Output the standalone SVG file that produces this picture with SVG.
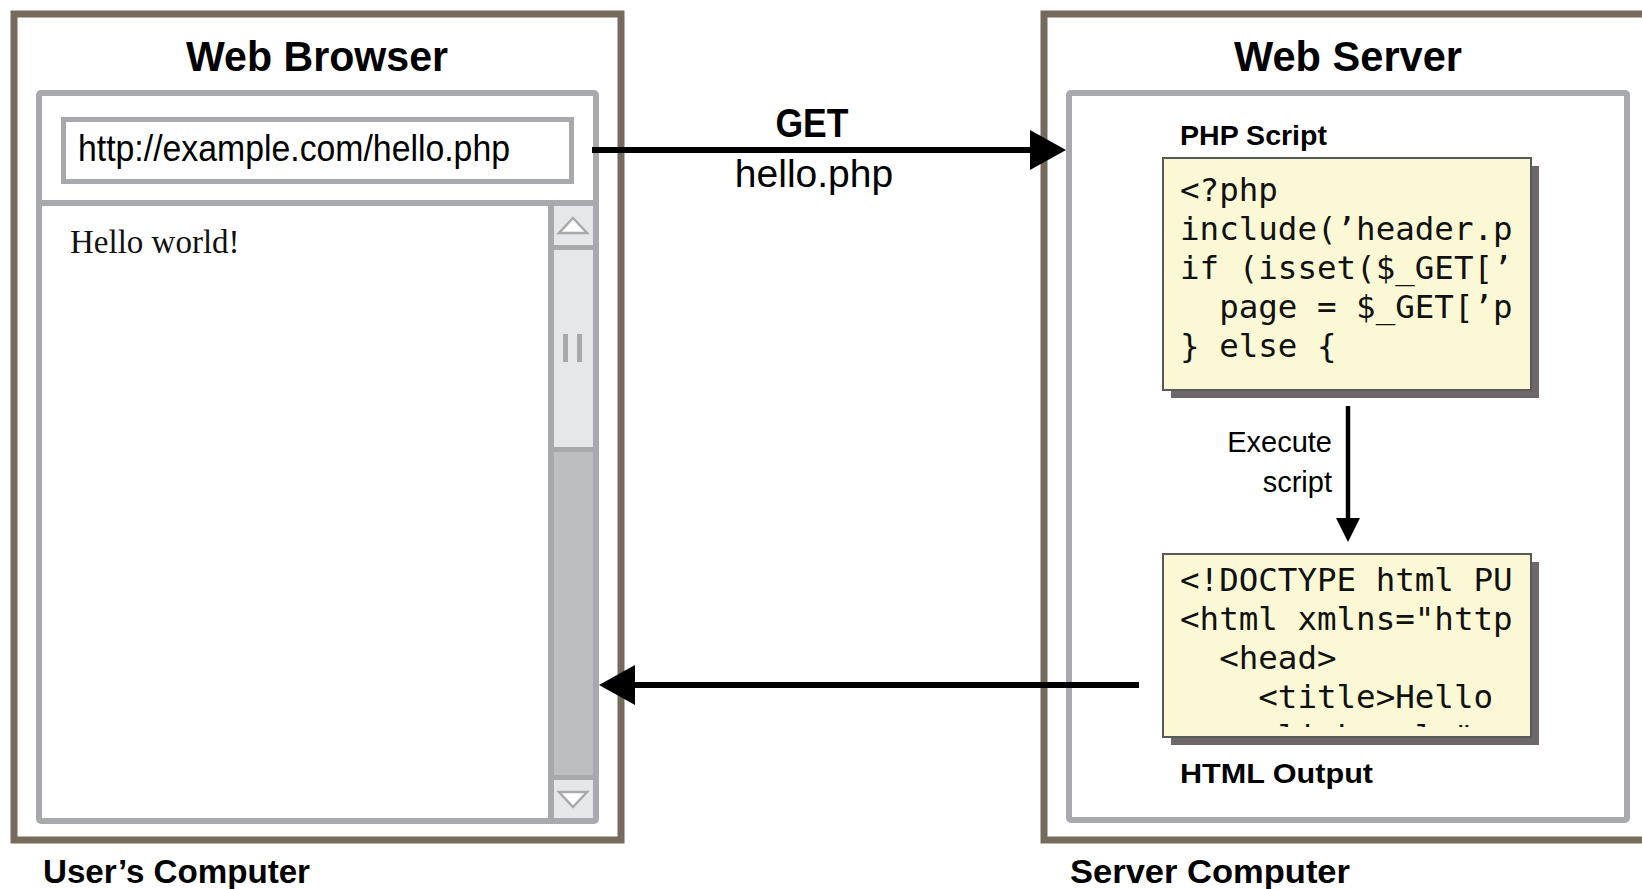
<svg xmlns="http://www.w3.org/2000/svg" width="1642" height="889" viewBox="0 0 1642 889">
<style>
.computer{fill:#ffffff;stroke:#766a5c;stroke-width:7}
.frame{fill:#ffffff;stroke:#a7a9ac;stroke-width:6}
.title{font-family:"Liberation Sans",Arial,sans-serif;font-weight:bold;font-size:43px;fill:#000}
.caption{font-family:"Liberation Sans",Arial,sans-serif;font-weight:bold;font-size:34px;fill:#000}
.label{font-family:"Liberation Sans",Arial,sans-serif;font-weight:bold;font-size:28px;fill:#000}
.small{font-family:"Liberation Sans",Arial,sans-serif;font-size:29px;fill:#000}
.code{font-family:"DejaVu Sans Mono","Liberation Mono",monospace;font-size:32.5px;fill:#111;white-space:pre}
.codebox{fill:#fbf8d5;stroke:#58595b;stroke-width:2}
.shadow{fill:#6e6769}
.sb{fill:#e6e7e8}
.tri{fill:#ffffff;stroke:#a7a9ac;stroke-width:2.5;stroke-linejoin:miter}
.conn{stroke:#000;fill:none}
</style>
<defs>
<marker id="bigHead" markerUnits="userSpaceOnUse" markerWidth="36" markerHeight="40" viewBox="0 0 36 40" refX="1" refY="20" orient="auto">
<path d="M0,0 L36,20 L0,40 z" fill="#000"/>
</marker>
<marker id="smallHead" markerUnits="userSpaceOnUse" markerWidth="24" markerHeight="24" viewBox="0 0 24 24" refX="1" refY="12" orient="auto">
<path d="M0,0 L24,12 L0,24 z" fill="#000"/>
</marker>
<clipPath id="phpClip"><rect x="1164" y="159" width="349" height="230"/></clipPath>
<clipPath id="htmlClip"><rect x="1164" y="555" width="349" height="172"/></clipPath>
</defs>

<g id="users-computer">
<rect class="computer" x="14" y="14" width="607" height="826"/>
<text class="caption" x="43" y="883" textLength="267" lengthAdjust="spacingAndGlyphs">User’s Computer</text>
</g>

<g id="web-browser">
<text class="title" x="317" y="71" text-anchor="middle" textLength="262" lengthAdjust="spacingAndGlyphs">Web Browser</text>
<rect class="frame" x="39" y="93" width="557" height="728" rx="2"/>
<line x1="39" y1="203" x2="596" y2="203" stroke="#a7a9ac" stroke-width="6"/>
<rect x="63.5" y="119.5" width="508" height="62" fill="#fff" stroke="#a7a9ac" stroke-width="5"/>
<text class="small" x="78" y="161" style="font-size:36px" textLength="432" lengthAdjust="spacingAndGlyphs">http://example.com/hello.php</text>
<text x="70" y="253" font-family="'Liberation Serif','Times New Roman',serif" font-size="33" fill="#111">Hello world!</text>
<g id="scrollbar">
<line x1="551" y1="203" x2="551" y2="821" stroke="#a7a9ac" stroke-width="6"/>
<rect class="sb" x="554" y="206" width="39" height="39"/>
<rect x="554" y="245" width="39" height="5" fill="#a7a9ac"/>
<rect class="sb" x="554" y="250" width="39" height="197"/>
<rect x="554" y="447" width="39" height="5" fill="#a7a9ac"/>
<rect x="554" y="452" width="39" height="323" fill="#bcbec0"/>
<rect x="554" y="775" width="39" height="5" fill="#a7a9ac"/>
<rect class="sb" x="554" y="780" width="39" height="38"/>
<polygon class="tri" points="573,218 587,233 559,233"/>
<polygon class="tri" points="559,792 587,792 573,807"/>
<rect x="563" y="334" width="5" height="28" fill="#a7a9ac"/>
<rect x="577" y="334" width="5" height="28" fill="#a7a9ac"/>
</g>
</g>

<g id="server-computer">
<rect class="computer" x="1044" y="14" width="640" height="826"/>
<text class="caption" x="1070" y="883" textLength="280" lengthAdjust="spacingAndGlyphs">Server Computer</text>
</g>

<g id="web-server">
<text class="title" x="1348" y="71" text-anchor="middle" textLength="228" lengthAdjust="spacingAndGlyphs">Web Server</text>
<rect class="frame" x="1069" y="93" width="558" height="727" rx="2"/>
</g>

<g id="php-script">
<text class="label" x="1180" y="145" textLength="147" lengthAdjust="spacingAndGlyphs">PHP Script</text>
<rect class="shadow" x="1171" y="166" width="368" height="232"/>
<rect class="codebox" x="1163" y="158" width="368" height="232"/>
<g clip-path="url(#phpClip)">
<text class="code" x="1180" y="201">&lt;?php</text>
<text class="code" x="1180" y="240">include(’header.p</text>
<text class="code" x="1180" y="279">if (isset($_GET[’</text>
<text class="code" x="1180" y="318">  page = $_GET[’p</text>
<text class="code" x="1180" y="357">} else {</text>
</g>
</g>

<g id="html-output">
<rect class="shadow" x="1171" y="562" width="368" height="183"/>
<rect class="codebox" x="1163" y="554" width="368" height="183"/>
<g clip-path="url(#htmlClip)">
<text class="code" x="1180" y="591">&lt;!DOCTYPE html PU</text>
<text class="code" x="1180" y="630">&lt;html xmlns="http</text>
<text class="code" x="1180" y="669">  &lt;head&gt;</text>
<text class="code" x="1180" y="708">    &lt;title&gt;Hello</text>
<text class="code" x="1180" y="748">    &lt;link rel="</text>
</g>
<text class="label" x="1180" y="783" textLength="193" lengthAdjust="spacingAndGlyphs">HTML Output</text>
</g>

<g id="connectors">
<line class="conn" x1="592" y1="150" x2="1031" y2="150" stroke-width="6" marker-end="url(#bigHead)"/>
<text class="title" x="812" y="137" text-anchor="middle" style="font-size:40px" textLength="73" lengthAdjust="spacingAndGlyphs">GET</text>
<text class="small" x="814" y="187" text-anchor="middle" style="font-size:39px">hello.php</text>
<line class="conn" x1="1348" y1="406" x2="1348" y2="519" stroke-width="4.5" marker-end="url(#smallHead)"/>
<text class="small" x="1332" y="452" text-anchor="end">Execute</text>
<text class="small" x="1332" y="492" text-anchor="end">script</text>
<line class="conn" x1="1139" y1="685" x2="634" y2="685" stroke-width="6" marker-end="url(#bigHead)"/>
</g>
</svg>
